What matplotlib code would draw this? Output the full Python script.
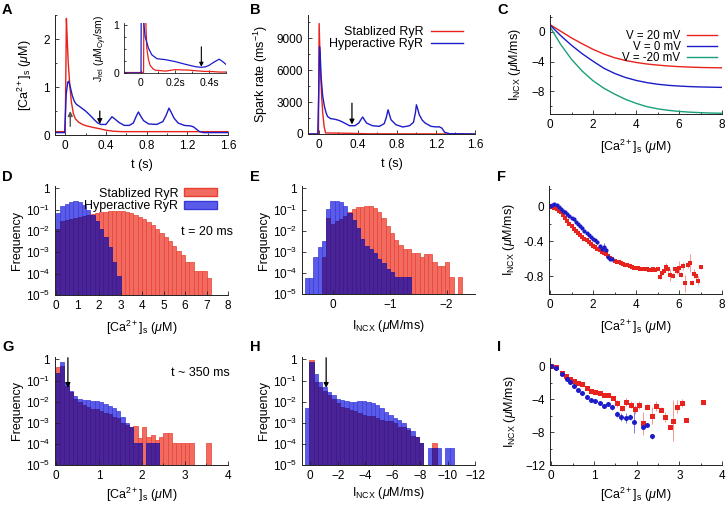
import numpy as np
import matplotlib
matplotlib.use("Agg")
import matplotlib.pyplot as plt
from matplotlib.patches import Patch
from matplotlib.lines import Line2D
from matplotlib.ticker import MultipleLocator, FixedLocator, FuncFormatter

plt.rcParams['font.family'] = ['Liberation Sans', 'DejaVu Sans']
plt.rcParams['mathtext.fontset'] = 'custom'
plt.rcParams['mathtext.rm'] = 'Liberation Sans'
plt.rcParams['mathtext.it'] = 'Liberation Sans:italic'
plt.rcParams['mathtext.bf'] = 'Liberation Sans:bold'
plt.rcParams['font.size'] = 8.5

RED = '#e8221c'
BLUE = '#1c1cc8'
GREEN = '#18a07a'
H_RED = '#f26b61'
H_BLUE = '#5b5bea'
H_PURP = '#4a2397'
TICK = 8.5
LAB = 9

# ---------------- Panel A data ----------------
a_blue_t = [-0.1, -0.005, 0.0, 0.01, 0.025, 0.035, 0.05, 0.07, 0.09, 0.11, 0.15, 0.2, 0.25, 0.29, 0.32, 0.35, 0.4,
            0.43, 0.46, 0.49, 0.53, 0.58, 0.63, 0.67, 0.7, 0.72, 0.74, 0.77, 0.82, 0.9, 0.96, 0.99, 1.02, 1.04,
            1.07, 1.11, 1.17, 1.23, 1.26, 1.29, 1.32, 1.36, 1.6]
a_blue_c = [0.05, 0.05, 0.3, 0.85, 1.1, 1.12, 1.0, 0.82, 0.7, 0.64, 0.58, 0.5, 0.4, 0.31, 0.25, 0.22, 0.22,
            0.3, 0.38, 0.33, 0.26, 0.2, 0.2, 0.25, 0.4, 0.48, 0.4, 0.3, 0.23, 0.22, 0.28, 0.4, 0.56, 0.48,
            0.35, 0.25, 0.2, 0.19, 0.17, 0.12, 0.07, 0.05, 0.05]
a_red_t = [-0.1, 0.0, 0.005, 0.012, 0.02, 0.03, 0.045, 0.06, 0.08, 0.1, 0.13, 0.17, 0.21, 0.27, 0.34, 0.4,
           0.47, 0.55, 1.6]
a_red_c = [0.07, 0.07, 1.0, 2.43, 2.0, 1.5, 1.05, 0.7, 0.45, 0.34, 0.27, 0.22, 0.19, 0.16, 0.13, 0.1,
           0.08, 0.07, 0.07]
# inset (J_rel)
in_blue_t = [-0.1, 0.0, 0.003, 0.012, 0.024, 0.044, 0.064, 0.094, 0.144, 0.2, 0.264, 0.324, 0.354, 0.38,
             0.4, 0.43, 0.46, 0.484, 0.5]
in_blue_j = [0.0, 0.0, 3.0, 1.2, 0.77, 0.52, 0.38, 0.3, 0.28, 0.24, 0.18, 0.13, 0.12, 0.13,
             0.16, 0.23, 0.29, 0.23, 0.18]
in_red_t = [-0.1, 0.015, 0.02, 0.028, 0.034, 0.044, 0.054, 0.07, 0.084, 0.144, 0.2, 0.284, 0.364, 0.42,
            0.46, 0.5]
in_red_j = [0.01, 0.01, 3.0, 1.1, 0.52, 0.28, 0.16, 0.09, 0.06, 0.04, 0.07, 0.06, 0.035, 0.03,
            0.02, 0.02]

# ---------------- Panel B data ----------------
b_blue_t = [-0.1, -0.01, 0.0, 0.008, 0.015, 0.024, 0.04, 0.058, 0.075, 0.09, 0.12, 0.16, 0.2, 0.23, 0.27,
            0.315, 0.37, 0.41, 0.435, 0.45, 0.47, 0.49, 0.55, 0.62, 0.67, 0.69, 0.71, 0.725, 0.74, 0.79,
            0.86, 0.93, 0.97, 0.99, 1.0, 1.015, 1.03, 1.06, 1.09, 1.15, 1.21, 1.23, 1.26, 1.29, 1.34, 1.6]
b_blue_r = [0, 0, 4000, 8200, 7500, 5400, 3600, 2600, 2000, 1650, 1450, 1400, 1300, 1190, 1000,
            780, 780, 1030, 1400, 1600, 1300, 1030, 780, 720, 970, 1500, 2280, 1800, 1340, 875,
            660, 780, 1100, 2000, 2750, 2300, 1800, 1300, 1030, 720, 660, 690, 560, 156, 30, 0]
b_red_t = [-0.1, -0.003, 0.004, 0.017, 0.03, 0.041, 0.055, 0.07, 0.35, 0.5, 1.6]
b_red_r = [0, 0, 10400, 6000, 3500, 1970, 700, 100, 60, 20, 0]

# ---------------- Panel C data ----------------
c_ca = [0, 0.5, 1, 1.5, 2, 2.5, 3, 3.5, 4, 4.5, 5, 5.5, 6, 6.5, 7, 7.5, 8]
c_v20 = [1.0, 0.1, -0.8, -1.6, -2.35, -2.98, -3.48, -3.85, -4.12, -4.33, -4.48, -4.6, -4.69, -4.75, -4.8, -4.83, -4.85]
c_v0 = [0.95, -0.5, -1.8, -2.95, -3.95, -4.9, -5.6, -6.15, -6.55, -6.85, -7.07, -7.22, -7.32, -7.39, -7.44, -7.47, -7.5]
c_vm20 = [0.7, -1.7, -3.7, -5.3, -6.6, -7.6, -8.4, -9.1, -9.65, -10.1, -10.4, -10.6, -10.75, -10.85, -10.92, -10.97, -11.0]
c_labels = ['V = 20 mV', 'V = 0 mV', 'V = -20 mV']

# ---------------- Panel D data (bin 0.2 uM from 0) ----------------
d_bw = 0.2
d_blue = [0.071, 0.148, 0.19, 0.234, 0.251, 0.229, 0.162, 0.102, 0.059, 0.029, 0.0129, 0.005, 0.0017, 3.7e-4, 7.4e-5]
d_red = [0.0126, 0.0282, 0.0316, 0.0355, 0.0398, 0.0447, 0.0501, 0.0562, 0.0631, 0.0708, 0.0759, 0.0794,
         0.0832, 0.0871, 0.0871, 0.0851, 0.0759, 0.0692, 0.0589, 0.0479, 0.0372, 0.0269, 0.0186, 0.0126,
         0.0083, 0.005, 0.0033, 0.002, 0.0012, 7.8e-4, 3.7e-4, 3.7e-4, 1.35e-4, 1.35e-4, 1.35e-4, 6.6e-5]

# ---------------- Panel E data (bin 0.075 from +0.5 downward) ----------------
e_bw = 0.075
e_start = 0.5
e_blue = [5.8e-5, 5.8e-5, 5.4e-4, 1.7e-3, 3.2e-3, 0.105, 0.24, 0.257, 0.224, 0.148, 0.068, 0.033, 0.0135,
          0.0042, 0.0019, 0.0013, 9.1e-4, 4.5e-4, 2.9e-4, 1.6e-4, 1.15e-4, 6.3e-5, 6.3e-5, 6.3e-5, 6.3e-5]
e_red = [0, 0, 0, 0, 5.4e-4, 0.038, 0.02, 0.028, 0.035, 0.05, 0.076, 0.105, 0.129, 0.138, 0.148, 0.148,
         0.117, 0.076, 0.04, 0.0162, 0.0079, 0.0035, 0.002, 0.0013, 0.0013, 8.5e-4, 8.5e-4, 5.4e-4,
         7.9e-4, 7.9e-4, 3.2e-4, 2.2e-4, 2.2e-4, 3.2e-4, 6.3e-5, 0, 6.3e-5]

# ---------------- Panel F data ----------------
f_blue_x = [0.0, 0.1, 0.2, 0.3, 0.4, 0.5, 0.6, 0.7, 0.8, 0.9, 1.0, 1.1, 1.2, 1.3, 1.4, 1.5, 1.6, 1.7, 1.8,
            1.9, 2.0, 2.1, 2.2, 2.3, 2.4, 2.5, 2.6, 2.7, 2.8, 2.9]
f_blue_y = [0.0, 0.01, 0.03, 0.015, -0.01, -0.03, -0.05, -0.07, -0.09, -0.11, -0.13, -0.15, -0.18, -0.2,
            -0.23, -0.25, -0.28, -0.3, -0.33, -0.35, -0.37, -0.38, -0.41, -0.45, -0.49, -0.47, -0.5,
            -0.58, -0.6, -0.6]
f_blue_err = [0, 0, 0, 0, 0, 0, 0, 0, 0, 0, 0, 0, 0, 0, 0, 0, 0, 0, 0.01, 0.01, 0.01, 0.01, 0.02, 0.02,
              0.04, 0.05, 0.04, 0.01, 0.01, 0.01]
f_red_x = [0.0, 0.1, 0.2, 0.3, 0.4, 0.5, 0.6, 0.7, 0.8, 0.9, 1.0, 1.1, 1.2, 1.3, 1.4, 1.5, 1.6, 1.7, 1.8,
           1.9, 2.0, 2.1, 2.2, 2.3, 2.4, 2.5, 2.6, 2.7, 2.8, 2.9, 3.0, 3.1, 3.2, 3.3, 3.4, 3.5, 3.6, 3.7,
           3.8, 3.9, 4.0, 4.1, 4.2, 4.3, 4.4, 4.5, 4.6, 4.7, 4.8, 4.9, 5.0, 5.1, 5.2, 5.3, 5.4, 5.5, 5.6,
           5.7, 5.8, 5.9, 6.0, 6.1, 6.2, 6.3, 6.4, 6.5, 6.6, 6.7, 6.8, 6.9, 7.0]
f_red_y = [0.0, -0.01, -0.02, -0.03, -0.05, -0.07, -0.1, -0.13, -0.17, -0.2, -0.23, -0.26, -0.28, -0.31,
           -0.33, -0.35, -0.37, -0.39, -0.41, -0.43, -0.45, -0.47, -0.49, -0.5, -0.52, -0.53, -0.55, -0.57,
           -0.59, -0.6, -0.62, -0.63, -0.64, -0.65, -0.66, -0.67, -0.67, -0.68, -0.69, -0.7, -0.7, -0.7,
           -0.71, -0.71, -0.72, -0.72, -0.73, -0.73, -0.72, -0.73, -0.72, -0.81, -0.76, -0.74, -0.69, -0.72,
           -0.78, -0.79, -0.72, -0.74, -0.7, -0.78, -0.68, -0.88, -0.67, -0.65, -0.87, -0.77, -0.8, -0.85,
           -0.69]
f_red_err = [0] * 45 + [0.01, 0.01, 0.01, 0.01, 0.01, 0.01, 0.02, 0.02, 0.02, 0.04, 0.03, 0.07, 0.03,
                        0.03, 0.03, 0.08, 0.03, 0.05, 0.1, 0.03, 0.1, 0.03, 0.05, 0.04, 0.05, 0.02]

# ---------------- Panel G data (bin 0.1 uM from 0) ----------------
g_bw = 0.1
g_blue = [0.22, 0.76, 0.089, 0.032, 0.018, 0.014, 0.0126, 0.0126, 0.0112, 0.0112, 0.01, 0.0079, 0.0063,
          0.005, 0.0035, 0.0018, 0.001, 6.3e-4, 1.1e-4, 1.1e-4, 0, 1.1e-4, 1.1e-4, 1.1e-4]
g_red = [0.42, 0.5, 0.056, 0.028, 0.014, 0.01, 0.007, 0.0056, 0.0045, 0.0045, 0.0035, 0.0028, 0.0025,
         0.0018, 0.0016, 0.001, 7.9e-4, 6.6e-4, 7.1e-4, 2e-4, 6.6e-4, 2.2e-4, 2.5e-4, 1.6e-4, 2.2e-4,
         3.2e-4, 3.2e-4, 1.1e-4, 1.1e-4, 1.1e-4, 1.1e-4, 1.1e-4, 0, 0, 0, 1.1e-4]

# ---------------- Panel H data (bin 0.32 from +0.4 downward) ----------------
h_bw = 0.32
h_start = 0.4
h_blue = [5e-3, 0.72, 0.2, 0.089, 0.05, 0.03, 0.02, 0.014, 0.012, 0.0107, 0.01, 0.01, 0.0107, 0.0107, 0.01,
          0.0083, 0.0071, 0.005, 0.0034, 0.0023, 0.0016, 0.00135, 9.5e-4, 5.5e-4, 4.1e-4, 2.2e-4, 1.15e-4,
          0, 6.3e-5, 6.3e-5, 6.3e-5, 0, 6.3e-5, 6.3e-5]
h_red = [0, 0.95, 0.089, 0.05, 0.032, 0.02, 0.0135, 0.0083, 0.0054, 0.0049, 0.0041, 0.0037, 0.0029, 0.0023,
         0.0021, 0.0021, 0.0016, 0.00135, 0.00115, 0.00115, 9.5e-4, 6.6e-4, 6.2e-4, 4.6e-4, 2.4e-4, 2.2e-4,
         1.15e-4, 0, 0, 1.15e-4]

# ---------------- Panel I data ----------------
i_blue_x = [0.0, 0.12, 0.24, 0.36, 0.44, 0.53, 0.63, 0.73, 0.83, 0.92, 1.02, 1.13, 1.23, 1.34, 1.43, 1.55,
            1.64, 1.74, 1.84, 1.94, 2.15, 2.25, 2.35]
i_blue_y = [0.0, -0.2, -0.9, -1.5, -1.94, -2.43, -2.87, -3.28, -3.77, -4.05, -4.25, -4.45, -4.86, -4.57,
            -4.98, -5.79, -6.15, -6.27, -6.15, -6.76, -7.37, -7.09, -8.5]
i_blue_err = [0, 0, 0, 0, 0, 0, 0, 0, 0, 0.1, 0.1, 0.1, 0.2, 0.2, 0.3, 0.35, 0.5, 0.6, 0.4, 1.3, 0.3, 0.2, 0.3]
i_red_x = [0.0, 0.12, 0.24, 0.34, 0.44, 0.53, 0.63, 0.73, 0.83, 0.92, 1.02, 1.13, 1.23, 1.34, 1.45, 1.55,
           1.65, 1.75, 1.86, 1.95, 2.05, 2.16, 2.25, 2.35, 2.46, 2.56, 2.66, 2.77, 2.86, 2.95, 3.06, 3.16, 3.56]
i_red_y = [0.0, -0.1, -0.8, -1.2, -1.5, -1.8, -2.0, -2.2, -2.6, -2.95, -3.15, -3.3, -3.5, -3.55, -3.85,
           -4.5, -5.1, -4.37, -4.65, -5.25, -4.74, -6.9, -4.94, -6.0, -4.86, -5.26, -6.15, -7.4, -6.6,
           -4.94, -4.45, -6.48, -4.37]
i_red_err = [0, 0, 0, 0, 0, 0, 0, 0, 0, 0, 0.1, 0.1, 0.1, 0.1, 0.2, 0.4, 0.3, 0.5, 0.4, 0.5, 0.5, 1.4,
             0.3, 1.0, 0.6, 0.3, 0.6, 0.1, 2.5, 0.8, 0.5, 0.1, 0.1]

W, H = 727, 505
fig = plt.figure(figsize=(W / 100, H / 100), dpi=100)


def rect(l, r, t, b):
    return [l / W, 1 - b / H, (r - l) / W, (b - t) / H]


def style(ax, lw=0.7):
    for s in ('top', 'right'):
        ax.spines[s].set_visible(False)
    for s in ('left', 'bottom'):
        ax.spines[s].set_linewidth(lw)
        ax.spines[s].set_color('#222222')
    ax.tick_params(which='both', direction='in', width=0.6, color='#222222', labelsize=TICK, pad=3.5)
    ax.tick_params(which='major', length=3)
    ax.tick_params(which='minor', length=1.6)


def logfmt(v, pos):
    e = int(round(np.log10(v)))
    if e == 0:
        return '1'
    return r'10$^{%d}$' % e


def style_log(ax):
    ax.set_yscale('log')
    ax.set_ylim(1e-5, 1.3)
    ax.yaxis.set_major_locator(FixedLocator([1e-5, 1e-4, 1e-3, 1e-2, 1e-1, 1]))
    ax.yaxis.set_major_formatter(FuncFormatter(logfmt))
    ax.yaxis.set_minor_locator(FixedLocator([]))
    ax.set_ylabel('Frequency', fontsize=LAB, labelpad=2)


def hist(ax, centers, red, blue, bw):
    centers = np.asarray(centers)
    red = np.asarray(red, dtype=float)
    blue = np.asarray(blue, dtype=float)
    base = 1e-6
    nr = len(red)
    nb = len(blue)
    cr = centers[:nr]
    cb = centers[:nb]
    m = red > 0
    ax.bar(cr[m], red[m] - base, width=bw, bottom=base, color=H_RED, edgecolor='#e8402f', linewidth=0.5)
    m = blue > 0
    ax.bar(cb[m], blue[m] - base, width=bw, bottom=base, color=H_BLUE, edgecolor='#3a3ad8', linewidth=0.5)
    n = min(nr, nb)
    mn = np.minimum(red[:n], blue[:n])
    m = mn > 0
    ax.bar(centers[:n][m], mn[m] - base, width=bw, bottom=base, color=H_PURP, edgecolor='#3c1a8a', linewidth=0.5)


def letter(x, y, s):
    fig.text(x / W, 1 - y / H, s, fontsize=10.5, fontweight='bold', va='center', ha='left')


ca_label = r'[Ca$^{2+}$]$_\mathrm{s}$ ($\mathit{\mu}$M)'
incx_label = r'I$_\mathrm{NCX}$ ($\mathit{\mu}$M/ms)'
ARW = dict(arrowstyle='-|>', color='black', lw=0.9, mutation_scale=7, shrinkA=0, shrinkB=0)

# ---------- A ----------
axA = fig.add_axes(rect(55, 228, 15, 135))
style(axA)
axA.plot(a_red_t, a_red_c, color=RED, lw=1.0)
axA.plot(a_blue_t, a_blue_c, color=BLUE, lw=1.0)
axA.set_xlim(-0.1, 1.6)
axA.set_ylim(0, 2.5)
axA.xaxis.set_major_locator(FixedLocator([0, 0.4, 0.8, 1.2, 1.6]))
axA.xaxis.set_minor_locator(MultipleLocator(0.2))
axA.yaxis.set_major_locator(FixedLocator([0, 1, 2]))
axA.yaxis.set_minor_locator(MultipleLocator(0.5))
axA.set_xticklabels(['0', '0.4', '0.8', '1.2', '1.6'])
axA.set_xlabel('t (s)', fontsize=LAB, labelpad=5)
axA.set_ylabel(ca_label, fontsize=LAB, labelpad=7)
axA.annotate('', xy=(0.05, 0.5), xytext=(0.05, 0.18),
             arrowprops=dict(arrowstyle='-|>', color='#555555', lw=1.0, mutation_scale=7, shrinkA=0, shrinkB=0))
axA.annotate('', xy=(0.34, 0.23), xytext=(0.34, 0.5), arrowprops=ARW)

axIn = fig.add_axes(rect(124, 226, 23, 73))
style(axIn, lw=0.6)
axIn.plot(in_red_t, in_red_j, color=RED, lw=0.9)
axIn.plot(in_blue_t, in_blue_j, color=BLUE, lw=0.9)
axIn.set_xlim(-0.1, 0.5)
axIn.set_ylim(0, 1.05)
axIn.xaxis.set_major_locator(FixedLocator([0, 0.2, 0.4]))
axIn.xaxis.set_minor_locator(MultipleLocator(0.1))
axIn.set_xticklabels(['0', '0.2s', '0.4s'])
axIn.yaxis.set_major_locator(FixedLocator([0, 1]))
axIn.yaxis.set_minor_locator(MultipleLocator(0.25))
axIn.tick_params(which='both', labelsize=7.5)
axIn.tick_params(which='major', length=2.5)
axIn.tick_params(which='minor', length=1.3)
axIn.set_ylabel(r'J$_\mathrm{rel}$ ($\mathit{\mu}$M$_\mathrm{Cyt}$/sm)', fontsize=7.5, labelpad=3)
axIn.annotate('', xy=(0.355, 0.13), xytext=(0.355, 0.55),
              arrowprops=dict(arrowstyle='-|>', color='black', lw=0.8, mutation_scale=6, shrinkA=0, shrinkB=0))

# ---------- B ----------
axB = fig.add_axes(rect(308, 475, 15, 134))
style(axB)
axB.plot(b_red_t, b_red_r, color=RED, lw=1.0)
axB.plot(b_blue_t, b_blue_r, color=BLUE, lw=1.0)
axB.set_xlim(-0.11, 1.6)
axB.set_ylim(0, 11200)
axB.xaxis.set_major_locator(FixedLocator([0, 0.4, 0.8, 1.2, 1.6]))
axB.xaxis.set_minor_locator(MultipleLocator(0.2))
axB.set_xticklabels(['0', '0.4', '0.8', '1.2', '1.6'])
axB.yaxis.set_major_locator(FixedLocator([0, 3000, 6000, 9000]))
axB.yaxis.set_minor_locator(MultipleLocator(1500))
axB.set_xlabel('t (s)', fontsize=LAB, labelpad=5)
axB.set_ylabel(r'Spark rate (ms$^{-1}$)', fontsize=LAB, labelpad=5)
axB.annotate('', xy=(0.34, 900), xytext=(0.34, 2900), arrowprops=ARW)
axB.legend([Line2D([], [], color=RED, lw=1.0), Line2D([], [], color=BLUE, lw=1.0)],
           ['Stablized RyR', 'Hyperactive RyR'], loc='upper right', bbox_to_anchor=(0.96, 0.95),
           frameon=False, markerfirst=False, handlelength=2.6, fontsize=LAB, labelspacing=0.0,
           handletextpad=0.6, borderaxespad=0)

# ---------- C ----------
axC = fig.add_axes(rect(550, 722, 15, 114))
style(axC)
hC = []
for yv, col in zip([c_v20, c_v0, c_vm20], [RED, BLUE, GREEN]):
    hC += axC.plot(c_ca, yv, color=col, lw=1.0)
axC.set_xlim(0, 8)
axC.set_ylim(-11.1, 2.3)
axC.xaxis.set_major_locator(FixedLocator([0, 2, 4, 6, 8]))
axC.xaxis.set_minor_locator(MultipleLocator(1))
axC.yaxis.set_major_locator(FixedLocator([0, -4, -8]))
axC.yaxis.set_minor_locator(MultipleLocator(2))
axC.set_xlabel(ca_label, fontsize=LAB, labelpad=5)
axC.set_ylabel(incx_label, fontsize=LAB, labelpad=6)
axC.legend(hC, c_labels, loc='upper right', bbox_to_anchor=(1.0, 0.9), frameon=False, markerfirst=False,
           handlelength=2.6, handleheight=0.4, fontsize=8.3, labelspacing=-0.08, handletextpad=0.6,
           borderaxespad=0)

# ---------- D ----------
axD = fig.add_axes(rect(55, 228, 186, 295))
style(axD)
d_centers = np.arange(len(d_red)) * d_bw + d_bw / 2
hist(axD, d_centers, d_red, d_blue, d_bw)
style_log(axD)
axD.set_xlim(-0.05, 8)
axD.xaxis.set_major_locator(MultipleLocator(1))
axD.set_xlabel(ca_label, fontsize=LAB, labelpad=5)
axD.legend([Patch(facecolor=H_RED, edgecolor='#e8402f'), Patch(facecolor=H_BLUE, edgecolor='#3a3ad8')],
           ['Stablized RyR', 'Hyperactive RyR'], loc='upper right', bbox_to_anchor=(0.965, 1.03),
           frameon=False, markerfirst=False, handlelength=2.6, handleheight=0.6, fontsize=LAB,
           labelspacing=0.05, handletextpad=0.5, borderaxespad=0)
axD.text(1.03, 0.58, 't = 20 ms', transform=axD.transAxes, ha='right', va='center', fontsize=LAB)

# ---------- E ----------
axE = fig.add_axes(rect(302, 475, 186, 294))
style(axE)
e_centers = e_start - np.arange(max(len(e_red), len(e_blue))) * e_bw - e_bw / 2
hist(axE, e_centers, e_red, e_blue, e_bw)
style_log(axE)
axE.set_xlim(0.55, -2.5)
axE.xaxis.set_major_locator(FixedLocator([0, -1, -2]))
axE.xaxis.set_minor_locator(FixedLocator([]))
axE.set_xlabel(incx_label, fontsize=LAB, labelpad=5)

# ---------- F ----------
axF = fig.add_axes(rect(549, 722, 186, 294))
style(axF)
axF.errorbar(f_red_x, f_red_y, yerr=f_red_err, fmt='s', color=RED, ms=2.8, mew=0, ecolor='#f08a80',
             elinewidth=0.6, capsize=1.8, capthick=0.6)
axF.errorbar(f_blue_x, f_blue_y, yerr=f_blue_err, fmt='o', color=BLUE, ms=3.0, mew=0, ecolor='#6a6ae0',
             elinewidth=0.6, capsize=1.8, capthick=0.6)
axF.set_xlim(-0.05, 8)
axF.set_ylim(-1.0, 0.23)
axF.xaxis.set_major_locator(FixedLocator([0, 2, 4, 6, 8]))
axF.xaxis.set_minor_locator(MultipleLocator(1))
axF.yaxis.set_major_locator(FixedLocator([0, -0.4, -0.8]))
axF.yaxis.set_minor_locator(MultipleLocator(0.2))
axF.set_yticklabels(['0', '-0.4', '-0.8'])
axF.set_xlabel(ca_label, fontsize=LAB, labelpad=5)
axF.set_ylabel(incx_label, fontsize=LAB, labelpad=5)

# ---------- G ----------
axG = fig.add_axes(rect(55, 228, 357, 465))
style(axG)
g_centers = np.arange(max(len(g_red), len(g_blue))) * g_bw + g_bw / 2
hist(axG, g_centers, g_red, g_blue, g_bw)
style_log(axG)
axG.set_xlim(-0.02, 4)
axG.xaxis.set_major_locator(MultipleLocator(1))
axG.xaxis.set_minor_locator(MultipleLocator(0.5))
axG.set_xlabel(ca_label, fontsize=LAB, labelpad=2.5)
axG.text(1.01, 0.85, 't ~ 350 ms', transform=axG.transAxes, ha='right', va='center', fontsize=LAB)
axG.annotate('', xy=(0.28, 0.045), xytext=(0.28, 1.2), arrowprops=ARW)

# ---------- H ----------
axH = fig.add_axes(rect(302, 475, 357, 465))
style(axH)
h_centers = h_start - np.arange(max(len(h_red), len(h_blue))) * h_bw - h_bw / 2
hist(axH, h_centers, h_red, h_blue, h_bw)
style_log(axH)
axH.set_xlim(0.6, -12)
axH.xaxis.set_major_locator(FixedLocator([0, -2, -4, -6, -8, -10, -12]))
axH.xaxis.set_minor_locator(FixedLocator([]))
axH.set_xlabel(incx_label, fontsize=LAB, labelpad=2.5)
axH.annotate('', xy=(-1.16, 0.045), xytext=(-1.16, 1.2), arrowprops=ARW)

# ---------- I ----------
axI = fig.add_axes(rect(550, 722, 358, 465))
style(axI)
axI.errorbar(i_red_x, i_red_y, yerr=i_red_err, fmt='s', color=RED, ms=3.6, mew=0, ecolor='#f08a80',
             elinewidth=0.6, capsize=2, capthick=0.6)
axI.errorbar(i_blue_x, i_blue_y, yerr=i_blue_err, fmt='o', color=BLUE, ms=3.6, mew=0, ecolor='#6a6ae0',
             elinewidth=0.6, capsize=2, capthick=0.6)
axI.set_xlim(-0.03, 4)
axI.set_ylim(-12, 1.0)
axI.xaxis.set_major_locator(MultipleLocator(1))
axI.xaxis.set_minor_locator(MultipleLocator(0.5))
axI.yaxis.set_major_locator(FixedLocator([0, -4, -8, -12]))
axI.yaxis.set_minor_locator(MultipleLocator(2))
axI.set_xlabel(ca_label, fontsize=LAB, labelpad=2.5)
axI.set_ylabel(incx_label, fontsize=LAB, labelpad=5)

for s, x, y in [('A', 2, 10), ('B', 250, 10), ('C', 497, 10), ('D', 2, 177), ('E', 250, 177),
                ('F', 497, 177), ('G', 2, 347), ('H', 250, 347), ('I', 497, 347)]:
    letter(x, y, s)

fig.savefig('out.png', dpi=100)
